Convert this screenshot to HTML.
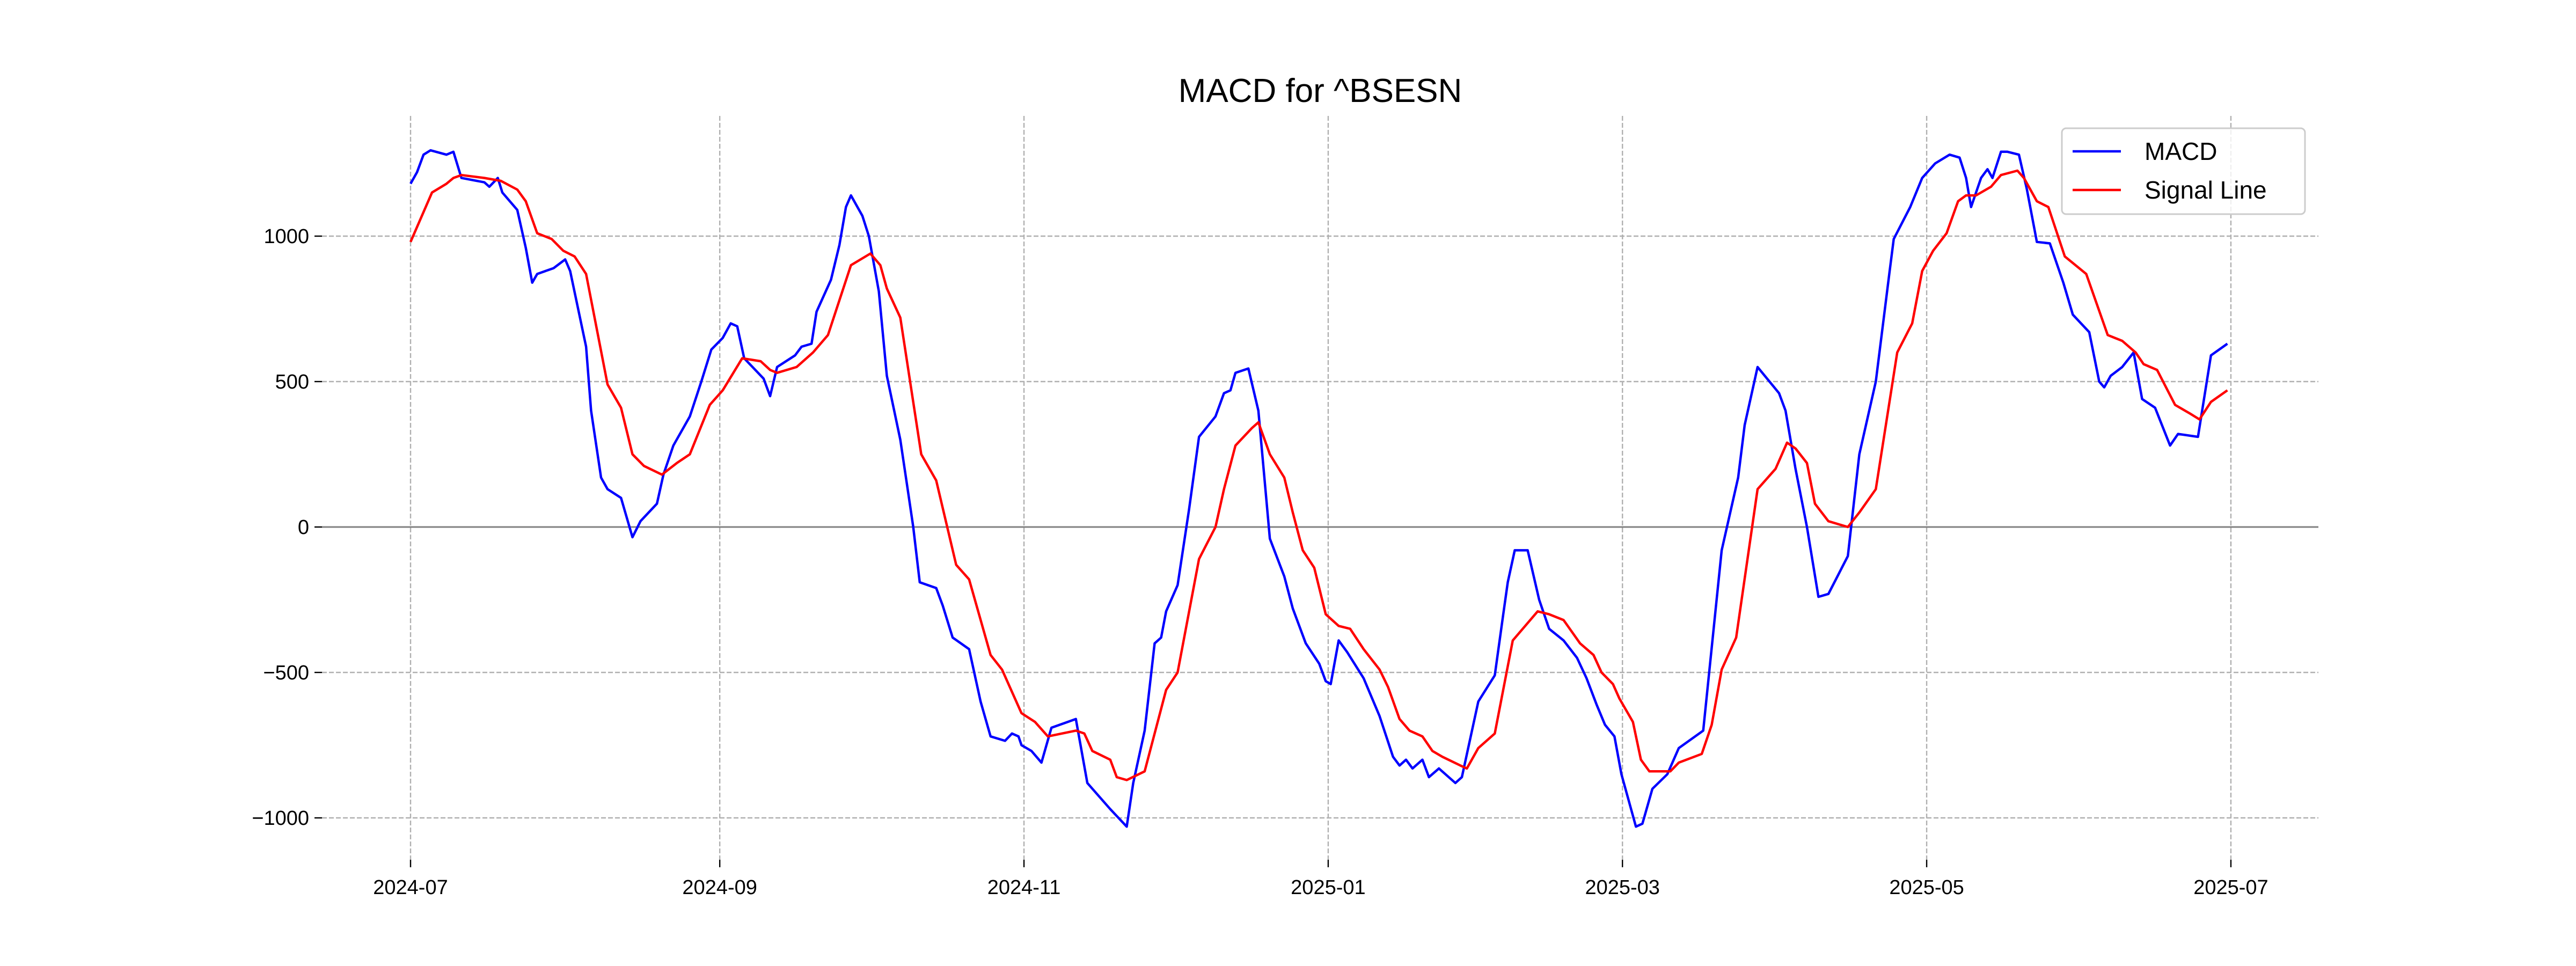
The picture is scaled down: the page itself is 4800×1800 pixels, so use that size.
<!DOCTYPE html>
<html><head><meta charset="utf-8"><style>
html,body{margin:0;padding:0;background:#fff;}
svg{display:block;font-family:"Liberation Sans","DejaVu Sans",sans-serif;}
</style></head><body>
<svg id="chart" width="4800" height="1800" viewBox="0 0 4800 1800" xmlns="http://www.w3.org/2000/svg">
<rect width="4800" height="1800" fill="#fff"/>
<text x="2460" y="190" font-size="62" text-anchor="middle" fill="#000">MACD for ^BSESN</text>
<g id="grid"></g>
<g id="axes"></g>
<g id="series"></g>
<g>
<rect x="3842" y="239" width="453" height="160" rx="8" fill="#fff" fill-opacity="0.8" stroke="#ccc" stroke-width="3"/>
<line x1="3862" y1="282" x2="3952" y2="282" stroke="#0000ff" stroke-width="4.5"/>
<text x="3996" y="298" font-size="46">MACD</text>
<line x1="3862" y1="354" x2="3952" y2="354" stroke="#ff0000" stroke-width="4.5"/>
<text x="3996" y="370" font-size="46">Signal Line</text>
</g>
</svg>
<script>
// days since 2024-07-01
const macdDays=[0,1.3,2.6,4.0,7.2,8.6,10.2,14.8,15.8,17.5,18.4,21.4,23.1,24.4,25.4,28.7,31.0,32.0,35.2,36.2,38.2,39.5,42.2,44.5,46.1,49.4,50.7,52.7,56.0,58.3,60.3,62.6,64.2,65.5,66.9,70.8,72.1,73.5,77.1,78.4,80.4,81.4,84.3,86.0,87.3,88.3,90.6,91.9,93.9,95.5,98.2,99.5,100.8,102.1,105.4,106.7,108.7,112.0,114.3,116.3,119.2,120.6,121.9,122.5,124.5,126.5,128.5,131.8,133.4,135.7,140.3,143.6,144.9,147.2,149.2,150.5,151.5,153.8,156.1,158.1,161.4,163.1,164.4,165.4,168.0,170.0,172.3,175.2,176.9,179.5,182.2,183.5,184.5,186.1,187.8,191.1,194.3,197.0,198.3,199.6,200.9,202.9,204.2,206.2,209.5,210.8,214.1,217.4,219.1,220.0,221.4,224.0,226.3,228.3,231.2,233.9,235.8,237.8,239.5,241.4,242.8,245.7,247.0,249.0,252.0,254.3,259.2,262.9,266.2,267.5,270.1,274.4,275.7,277.7,280.0,282.3,284.3,288.2,290.5,293.8,296.5,297.4,300.7,303.1,305.7,308.6,310.6,311.9,312.9,314.9,316.2,317.2,318.9,320.2,322.5,324.1,326.1,328.7,331.4,333.3,336.6,338.6,339.6,340.9,343.2,345.5,347.2,349.8,352.8,354.4,358.4,361.0,364.3];
const macdValues=[1180,1220,1280,1295,1280,1290,1200,1185,1170,1200,1150,1090,960,840,870,890,920,880,620,400,170,130,100,-35,20,80,180,280,380,500,610,650,700,690,580,510,450,550,590,620,630,740,850,970,1100,1140,1070,1000,810,520,300,150,0,-190,-210,-270,-380,-420,-600,-720,-735,-710,-720,-750,-770,-810,-690,-670,-660,-880,-970,-1030,-880,-700,-400,-380,-290,-200,60,310,380,460,470,530,545,400,-40,-170,-280,-400,-470,-530,-540,-390,-430,-520,-650,-790,-820,-800,-830,-800,-860,-830,-880,-860,-600,-510,-300,-190,-80,-80,-250,-350,-390,-450,-520,-610,-680,-720,-850,-1030,-1020,-900,-850,-760,-700,-80,170,350,550,460,400,200,0,-240,-230,-100,250,500,870,990,1100,1200,1250,1280,1270,1200,1100,1200,1230,1200,1290,1290,1280,1160,980,975,840,730,670,500,480,520,550,600,440,410,280,320,310,590,630];
const signalDays=[0,4.3,7.2,8.6,10.2,14.8,18.1,21.4,23.1,25.4,28.3,30.6,32.9,35.2,39.5,42.2,44.5,46.8,50.4,53.4,56.0,60.0,62.6,66.5,70.2,72.1,73.5,77.4,80.7,83.7,88.3,92.2,94.2,95.5,98.2,102.4,105.4,109.4,112.0,116.3,118.6,122.5,125.2,127.8,133.4,135.1,136.7,140.3,141.6,143.6,147.2,151.5,153.8,158.1,161.4,163.1,165.4,168.7,170.0,172.3,175.2,176.9,178.9,181.2,183.5,186.1,188.4,191.1,194.3,196.0,198.3,200.3,202.9,204.9,206.9,210.5,211.8,214.1,217.4,221.0,224.0,226.0,228.3,231.2,234.5,237.2,238.8,241.1,242.4,245.1,246.7,248.4,252.6,254.3,258.9,260.9,262.9,265.8,270.1,273.7,276.0,277.7,280.0,281.6,284.3,288.2,290.5,293.8,298.1,301.1,303.1,305.3,308.0,310.3,311.9,313.9,316.9,318.9,322.2,323.5,326.1,328.4,331.7,336.0,340.3,343.2,345.9,347.5,350.2,353.8,356.8,358.7,361.0,364.3];
const signalValues=[980,1150,1180,1200,1210,1200,1190,1160,1120,1010,990,950,930,870,490,410,250,210,180,220,250,420,470,580,570,540,530,550,600,660,900,940,900,820,720,250,160,-130,-180,-440,-490,-640,-670,-720,-700,-710,-770,-800,-860,-870,-840,-560,-500,-110,0,130,280,340,360,250,170,50,-80,-140,-300,-340,-350,-420,-490,-550,-660,-700,-720,-770,-790,-820,-830,-760,-710,-390,-330,-290,-300,-320,-400,-440,-500,-540,-590,-670,-800,-840,-840,-810,-780,-680,-490,-380,130,200,290,270,220,80,20,0,50,130,600,700,880,950,1010,1120,1140,1140,1170,1210,1225,1200,1120,1100,930,870,660,640,600,560,540,420,390,370,430,470];
const xTickDays=[0,62,123,184,243,304,365];
const xTickLabels=["2024-07","2024-09","2024-11","2025-01","2025-03","2025-05","2025-07"];
const yTickValues=[-1000,-500,0,500,1000];
const yTickLabels=["\u22121000","\u2212500","0","500","1000"];

const NS="http://www.w3.org/2000/svg";
const X=d=>765+d*9.293;
const Y=v=>982-v*0.542;
function mk(tag,attrs,parent){const e=document.createElementNS(NS,tag);for(const k in attrs)e.setAttribute(k,attrs[k]);parent.appendChild(e);return e;}
const grid=document.getElementById('grid'),axes=document.getElementById('axes'),series=document.getElementById('series');
xTickDays.forEach((d,i)=>{
  const g=mk('line',{x1:X(d),x2:X(d),y1:216,y2:1602,stroke:'#b0b0b0','stroke-width':2.4,'stroke-dasharray':'9,4'},grid);
  
  
  mk('line',{x1:X(d),x2:X(d),y1:1602,y2:1616,stroke:'#000','stroke-width':2.4},axes);
  const t=mk('text',{x:X(d),y:1666,'font-size':38,'text-anchor':'middle',fill:'#000'},axes);
  t.textContent=xTickLabels[i];
  
  
});
yTickValues.forEach((v,i)=>{
  const g=mk('line',{x1:600,x2:4320,y1:Y(v),y2:Y(v),stroke:v===0?'#808080':'#b0b0b0','stroke-width':v===0?3:2.4,'stroke-dasharray':v===0?'none':'9,4'},grid);
  
  
  mk('line',{x1:586,x2:600,y1:Y(v),y2:Y(v),stroke:'#000','stroke-width':2.4},axes);
  const t=mk('text',{x:576,y:Y(v)+13,'font-size':38,'text-anchor':'end',fill:'#000'},axes);
  t.textContent=yTickLabels[i];
  
  
});
function line(days,vals,color,name){
  const pts=days.map((d,i)=>X(d).toFixed(1)+','+Y(vals[i]).toFixed(1)).join(' ');
  const p=mk('polyline',{points:pts,fill:'none',stroke:color,'stroke-width':4.5,'stroke-linejoin':'round'},series);
  
  
}
line(macdDays,macdValues,'#0000ff','macd-line');
line(signalDays,signalValues,'#ff0000','signal-line');
</script>
</body></html>
